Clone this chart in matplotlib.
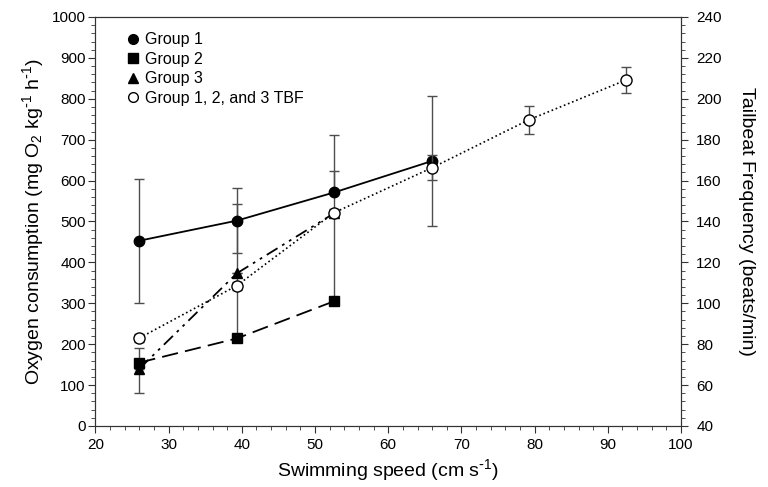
import matplotlib.pyplot as plt
from matplotlib.ticker import MultipleLocator

plt.rcParams['font.family'] = ['Liberation Sans', 'DejaVu Sans']
plt.rcParams['mathtext.default'] = 'regular'

# oxygen consumption (left axis)
speed_g1 = [26, 39.3, 52.6, 66]
mo2_g1 = [453, 502, 571, 648]
err_g1_lo = [152, 80, 0, 160]
err_g1_hi = [152, 80, 140, 160]

speed_g2 = [26, 39.3, 52.6]
mo2_g2 = [155, 214, 305]
err_g2_lo = [0, 0, 0]
err_g2_hi = [36, 159, 215]

speed_g3 = [26, 39.3, 52.6]
mo2_g3 = [140, 373, 520]
err_g3_lo = [60, 0, 0]
err_g3_hi = [0, 170, 103]

# tailbeat frequency (right axis)
speed_tbf = [26, 39.3, 52.6, 66, 79.2, 92.5]
tbf = [83, 108.6, 144.3, 166.3, 189.7, 209.2]
err_tbf = [2, 2, 2, 6, 7, 6.5]

fig = plt.figure(figsize=(7.68, 4.87), dpi=100)
ax = fig.add_axes([0.1243, 0.1253, 0.7624, 0.8398])
ax2 = ax.twinx()

ecol = '#4d4d4d'
ax.errorbar(speed_g1, mo2_g1, yerr=[err_g1_lo, err_g1_hi], fmt='none', ecolor=ecol, elinewidth=1, capsize=3.5, zorder=1)
ax.errorbar(speed_g2, mo2_g2, yerr=[err_g2_lo, err_g2_hi], fmt='none', ecolor=ecol, elinewidth=1, capsize=3.5, zorder=1)
ax.errorbar(speed_g3, mo2_g3, yerr=[err_g3_lo, err_g3_hi], fmt='none', ecolor=ecol, elinewidth=1, capsize=3.5, zorder=1)

h1, = ax.plot(speed_g1, mo2_g1, '-', color='black', lw=1.3, marker='o', ms=7.5, zorder=3, label='Group 1')
h2, = ax.plot(speed_g2, mo2_g2, color='black', lw=1.3, dashes=(9, 4), marker='s', ms=7, zorder=3, label='Group 2')
h3, = ax.plot(speed_g3, mo2_g3, color='black', lw=1.3, dashes=(7, 3, 1.5, 3, 1.5, 3), marker='^', ms=7.5, zorder=3, label='Group 3')

ax2.errorbar(speed_tbf, tbf, yerr=err_tbf, fmt='none', ecolor=ecol, elinewidth=1, capsize=3.5, zorder=1)
h4, = ax2.plot(speed_tbf, tbf, ':', color='black', lw=1.2, marker='o', ms=8, mfc='white', mec='black', mew=1,
               zorder=3, label='Group 1, 2, and 3 TBF')

ax.set_xlim(20, 100)
ax.set_ylim(0, 1000)
ax2.set_ylim(40, 240)
ax.xaxis.set_major_locator(MultipleLocator(10))
ax.xaxis.set_minor_locator(MultipleLocator(2))
ax.yaxis.set_major_locator(MultipleLocator(100))
ax.yaxis.set_minor_locator(MultipleLocator(20))
ax2.yaxis.set_major_locator(MultipleLocator(20))
ax2.yaxis.set_minor_locator(MultipleLocator(4))

for a in (ax, ax2):
    a.tick_params(which='major', direction='out', length=5, labelsize=11, color='#333333')
    a.tick_params(which='minor', direction='out', length=3, color='#333333')
    for s in a.spines.values():
        s.set_color('#333333')
ax.tick_params(axis='y', which='major', pad=2)
ax2.tick_params(axis='y', which='major', pad=6)

ax.set_xlabel(r'Swimming speed (cm s$^{\text{-}1}$)', fontsize=14)
ax.set_ylabel(r'Oxygen consumption (mg O$_2$ kg$^{\text{-}1}$ h$^{\text{-}1}$)', fontsize=14)
ax2.set_ylabel('Tailbeat Frequency (beats/min)', fontsize=14, rotation=270, labelpad=24)

ax.legend(handles=[h1, h2, h3, h4], loc='upper left', bbox_to_anchor=(0.035, 0.99), frameon=False,
          fontsize=11.5, handlelength=0.7, handletextpad=0.4, labelspacing=0.28, borderaxespad=0.3)
leg = ax.get_legend()
for line in leg.get_lines():
    line.set_linestyle('none')
    line.set_markersize(7)

fig.savefig('out.png', dpi=100)
